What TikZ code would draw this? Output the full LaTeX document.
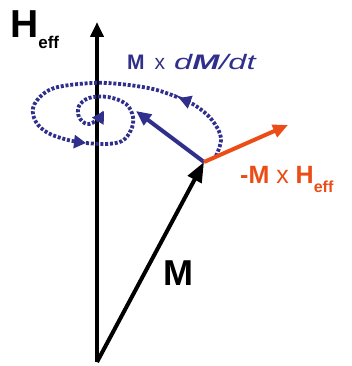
\documentclass[tikz,border=0pt]{standalone}
\usepackage{fontspec}
\usepackage{graphicx}
\setmainfont{Liberation Sans}
\usetikzlibrary{arrows.meta}
\definecolor{precess}{RGB}{48,48,140}
\definecolor{torque}{RGB}{236,76,22}
\tikzset{vec/.style={-{Triangle[length=15pt,width=13pt]},line width=4pt},
 spiral/.style={precess,line width=3.8pt,dash pattern=on 3pt off 1.8pt,-{Triangle[length=12pt,width=13pt]}},
 every node/.style={inner sep=0pt}}
\newcommand{\fsz}[1]{\fontsize{#1}{#1}\selectfont}

\begin{document}
\begin{tikzpicture}[x=1pt,y=-1pt]
\useasboundingbox (0,0) rectangle (352,366);
\coordinate (O) at (97,362);
\coordinate (Htip) at (97,22);
\coordinate (Mtip) at (204,162);
\coordinate (Dtip) at (136,111);
\coordinate (Ttip) at (288,125);
\draw[vec] (O)--(Htip);
\draw[vec,-{Triangle[length=20pt,width=15pt]}] (O)--(Mtip);
% precession spiral
\draw[spiral] plot[smooth,tension=.6] coordinates {(216,156) (221,138) (212,120) (196,106) (179,98)};
\draw[spiral] plot[smooth,tension=.6] coordinates {(177,97) (153,89) (120,84) (92,83) (58,87) (42,95) (33,108) (36,122) (48,133) (68,140) (86,143)};
\draw[spiral] plot[smooth,tension=.6] coordinates {(86,143) (106,144) (122,141) (131,130) (133,117) (126,104) (108,97) (89,98) (79,106) (79,117) (87,124) (97,120) (104,111)};
\draw[vec,precess] (Mtip)--(Dtip);
\draw[vec,torque] (Mtip)--(Ttip);
\node[anchor=base west,font=\fsz{39}\bfseries] (Hlab) at (10,38) {H\raisebox{-11pt}{\fsz{17}eff}};
\node[anchor=base west,font=\fsz{36}\bfseries] (Mlab) at (163,285) {M};
\node[anchor=base west,precess,font=\fsz{21}] (Dlab) at (127,70) {\textbf{M}\hspace{10pt}x\hspace{9pt}\scalebox{1.55}[1]{\itshape d\textbf{M}/dt}};
\node[anchor=base west,torque,font=\fsz{25}\bfseries] (Tlab) at (240,183) {-M \mdseries x \bfseries H\raisebox{-9pt}{\fsz{16}eff}};
\end{tikzpicture}
\end{document}
